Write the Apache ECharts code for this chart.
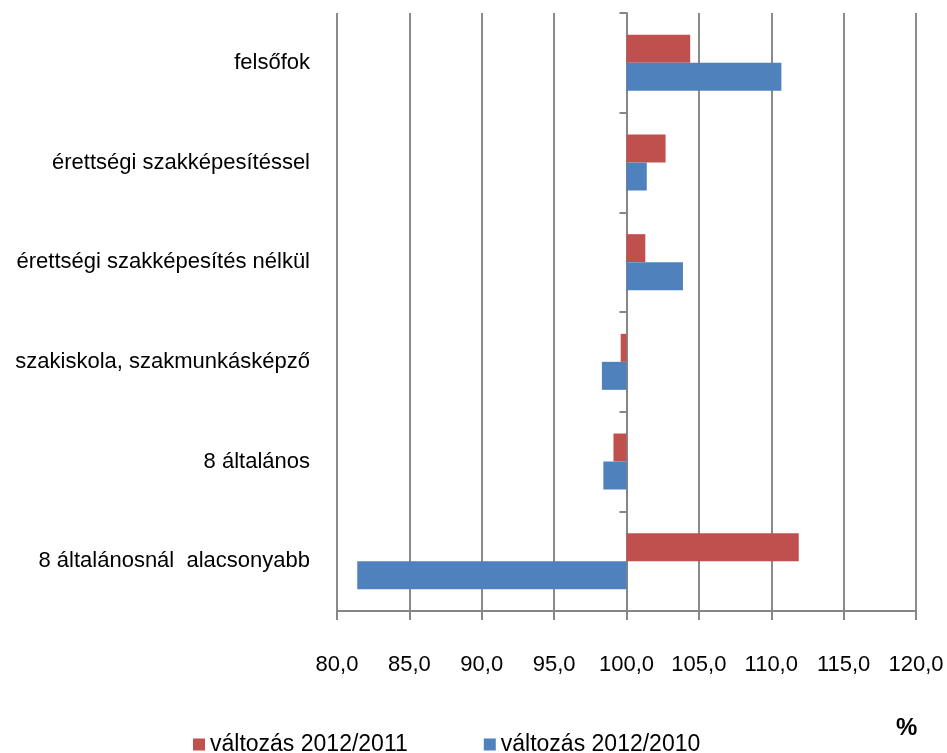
<!DOCTYPE html>
<html>
<head>
<meta charset="utf-8">
<script src="https://cdn.jsdelivr.net/npm/echarts@6/dist/echarts.min.js"></script>
<style>html,body{margin:0;padding:0;background:#fff}#c{width:947px;height:753px}</style>
</head>
<body>
<div id="c"></div>
<script>
// categories listed from bottom to top
const categories = [
  "8 általánosnál  alacsonyabb",
  "8 általános",
  "szakiskola, szakmunkásképző",
  "érettségi szakképesítés nélkül",
  "érettségi szakképesítéssel",
  "felsőfok"
];
const seriesNames = ["változás 2012/2011", "változás 2012/2010"];
const change2012_2011 = [111.9, 99.1, 99.6, 101.3, 102.7, 104.4];
const change2012_2010 = [81.4, 98.4, 98.3, 103.9, 101.4, 110.7];
const tickValues = [80, 85, 90, 95, 100, 105, 110, 115, 120];
const baseValue = 100;

const FONT = '"Liberation Sans", Arial, sans-serif';
const chart = echarts.init(document.getElementById('c'), null, {renderer: 'canvas'});
const fmt = v => (v + baseValue).toFixed(1).replace('.', ',');
chart.setOption({
  animation: false,
  textStyle: {fontFamily: FONT},
  grid: {left: 337, right: 31, top: 13, bottom: 142, containLabel: false, outerBoundsMode: 'none'},
  xAxis: {
    type: 'value',
    min: tickValues[0] - baseValue,
    max: tickValues[tickValues.length - 1] - baseValue,
    interval: tickValues[1] - tickValues[0],
    axisLine: {show: true, lineStyle: {color: '#868686', width: 2}},
    axisTick: {show: true, length: 9, lineStyle: {color: '#868686', width: 2}},
    splitLine: {show: true, lineStyle: {color: '#8a8a8a', width: 2}},
    axisLabel: {formatter: fmt, color: '#000', fontSize: 22, margin: 43, fontFamily: FONT}
  },
  yAxis: {
    type: 'category',
    data: categories,
    axisLine: {show: true, onZero: true, lineStyle: {color: '#868686', width: 2}},
    axisTick: {show: true, length: 7, lineStyle: {color: '#868686', width: 2}},
    axisLabel: {color: '#000', fontSize: 22, margin: 27, fontFamily: FONT}
  },
  legend: {
    left: 188, top: 728,
    itemWidth: 12, itemHeight: 12, icon: 'rect', itemGap: 76,
    textStyle: {color: '#000', fontSize: 23, fontFamily: FONT}
  },
  graphic: [{type: 'text', left: 896, top: 716, style: {text: '%', font: 'bold 24px ' + FONT, fill: '#000'}}],
  series: [
    {name: seriesNames[0], type: 'bar', barWidth: 28, barGap: '0%', itemStyle: {color: '#C0504D'},
     data: change2012_2011.map(v => v - baseValue)},
    {name: seriesNames[1], type: 'bar', barWidth: 28, barGap: '0%', itemStyle: {color: '#4F81BD'},
     data: change2012_2010.map(v => v - baseValue)}
  ]
});
</script>
</body>
</html>
